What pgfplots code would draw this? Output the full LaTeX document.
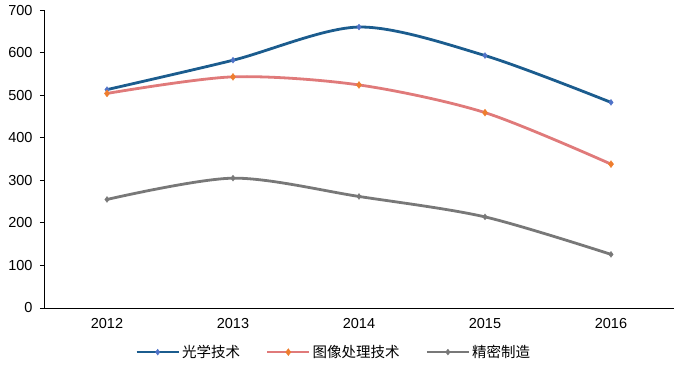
\documentclass[border=0pt]{standalone}
\usepackage{pgfplots}
\pgfplotsset{compat=1.18}
\usepackage{fontspec}
\setmainfont{Liberation Sans}
\newfontfamily\cjk{Noto Sans CJK SC}
\definecolor{cblue}{HTML}{1B5C8E}
\definecolor{cbluem}{HTML}{4F72C8}
\definecolor{cred}{HTML}{E07A7A}
\definecolor{corange}{HTML}{EE7D2E}
\definecolor{cgray}{HTML}{787878}
\begin{document}
\begin{tikzpicture}
\begin{axis}[
  scale only axis,
  width=630pt, height=298pt,
  xmin=-0.5, xmax=4.5,
  ymin=0, ymax=700,
  ytick={0,100,...,700},
  xtick={0,1,2,3,4},
  xticklabels={2012,2013,2014,2015,2016},
  extra x ticks={0.5,1.5,2.5,3.5,4.5},
  extra x tick labels={},
  extra x tick style={major tick length=4pt, tick align=inside, tick style={black}},
  axis x line*=bottom,
  axis y line*=left,
  axis line style={black, line width=0.9pt},
  x axis line style={-},
  y axis line style={-},
  every tick label/.append style={font=\fontsize{14.5}{16}\selectfont, text=black},
  /pgf/number format/assume math mode=true,
  x tick style={draw=none},
  y tick style={black, line width=0.9pt},
  ytick align=outside,
  major tick length=4pt,
  xticklabel style={yshift=-7pt},
  yticklabel style={xshift=-4pt},
  legend style={at={(0.46,-0.148)}, anchor=center, draw=none, fill=none,
    legend columns=3, font=\fontsize{14.5}{16}\selectfont\cjk,
    /tikz/every even column/.append style={column sep=24pt}},
  legend image code/.code={
    \draw[#1, mark=none, line width=2.6pt] (0pt,0pt) -- (42pt,0pt);
    \draw[#1, draw=none] plot coordinates {(21pt,0pt)};
  },
]
\addplot[cblue, line width=2.8pt, smooth, tension=0.5, mark=diamond*, mark size=3pt, mark options={fill=cbluem, draw=cbluem, line width=0.3pt}]
  coordinates {(0,513) (1,582) (2,660) (3,593) (4,483)};
\addlegendentry{光学技术}
\addplot[cred, line width=2.8pt, smooth, tension=0.5, mark=diamond*, mark size=3.5pt, mark options={fill=corange, draw=corange, line width=0.3pt}]
  coordinates {(0,504) (1,543) (2,524) (3,459) (4,338)};
\addlegendentry{图像处理技术}
\addplot[cgray, line width=2.8pt, smooth, tension=0.5, mark=diamond*, mark size=3pt, mark options={fill=cgray, draw=cgray, line width=0.3pt}]
  coordinates {(0,255) (1,305) (2,262) (3,214) (4,126)};
\addlegendentry{精密制造}
\end{axis}
\pgfresetboundingbox
\useasboundingbox (-44pt,-60pt) rectangle (636pt,308pt);
\end{tikzpicture}
\end{document}
